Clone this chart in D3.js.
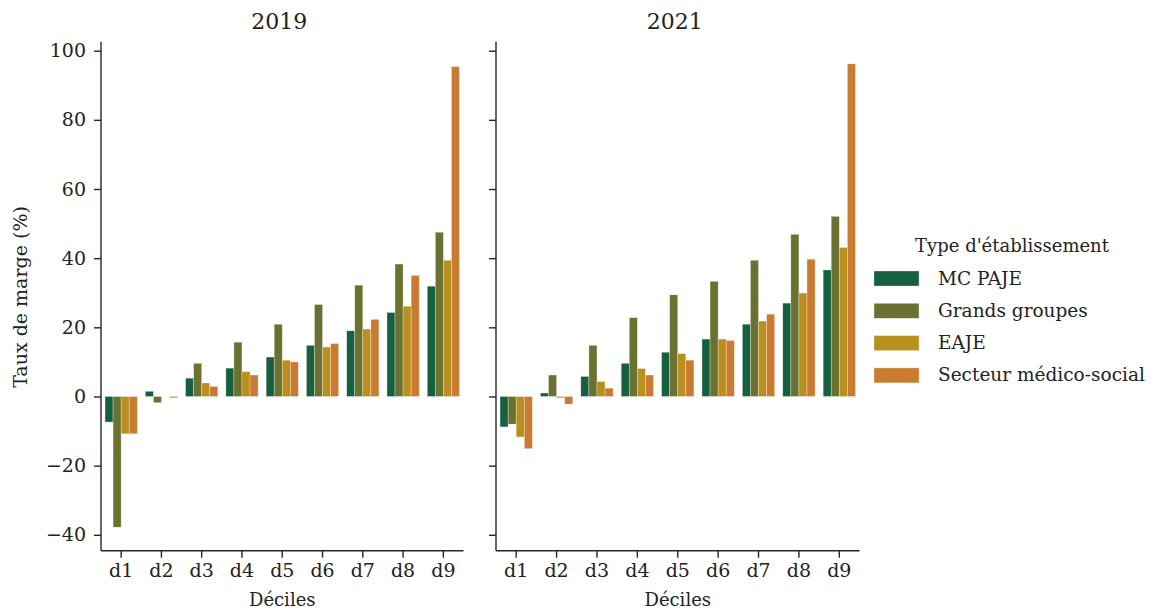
<!DOCTYPE html>
<html>
<head>
<meta charset="utf-8">
<script src="https://cdn.jsdelivr.net/npm/d3@7/dist/d3.min.js"></script>
<style>
  body { margin: 0; background: #fff; }
  svg { display: block; font-family: "DejaVu Serif", serif; }
</style>
</head>
<body>
<svg id="chart" width="1158" height="613"></svg>
<script>
const deciles = ["d1","d2","d3","d4","d5","d6","d7","d8","d9"];
const series = ["MC PAJE","Grands groupes","EAJE","Secteur médico-social"];
const colors = ["#17603f","#6b7131","#b98f1f","#c97b31"];
const years = ["2019","2021"];
const yTicks = [-40,-20,0,20,40,60,80,100];

const v2019_mcpaje   = [-7.4, 1.5, 5.3, 8.2, 11.4, 14.8, 19.0, 24.3, 31.9];
const v2019_grands   = [-37.8, -1.8, 9.6, 15.7, 20.9, 26.6, 32.2, 38.3, 47.5];
const v2019_eaje     = [-10.8, 0.0, 3.9, 7.2, 10.5, 14.3, 19.5, 26.1, 39.4];
const v2019_medsoc   = [-10.8, -0.4, 2.9, 6.2, 10.0, 15.3, 22.3, 35.0, 95.4];

const v2021_mcpaje   = [-8.8, 1.0, 5.8, 9.6, 12.8, 16.6, 20.9, 27.0, 36.6];
const v2021_grands   = [-8.0, 6.2, 14.8, 22.8, 29.4, 33.3, 39.4, 46.9, 52.1];
const v2021_eaje     = [-11.7, -0.4, 4.3, 8.1, 12.4, 16.6, 21.8, 29.9, 43.1];
const v2021_medsoc   = [-15.1, -2.2, 2.4, 6.2, 10.5, 16.2, 23.8, 39.7, 96.2];

const data = {
  "2019": [v2019_mcpaje, v2019_grands, v2019_eaje, v2019_medsoc],
  "2021": [v2021_mcpaje, v2021_grands, v2021_eaje, v2021_medsoc]
};

const svg = d3.select("#chart");
const plotTop = 41.7, plotBottom = 550.7;
const panels = [{x0: 101, x1: 463.5}, {x0: 496, x1: 859.5}];

const y = d3.scaleLinear().domain([-44.6, 102.6]).range([plotBottom, plotTop]);
const color = d3.scaleOrdinal().domain(series).range(colors);
const axisColor = "#262626";

years.forEach((yr, pi) => {
  const p = panels[pi];
  const x0 = d3.scaleBand().domain(deciles).range([p.x0, p.x1]).paddingInner(0.2).paddingOuter(0.1);
  const x1 = d3.scaleBand().domain(series).range([0, x0.bandwidth()]);
  const g = svg.append("g");

  series.forEach((s, si) => {
    g.selectAll(null).data(data[yr][si]).enter().append("rect")
      .attr("x", (d, i) => x0(deciles[i]) + x1(s))
      .attr("width", x1.bandwidth())
      .attr("y", d => Math.min(y(d), y(0)))
      .attr("height", d => Math.abs(y(d) - y(0)))
      .attr("fill", color(s))
      .attr("stroke", "#ffffff")
      .attr("stroke-opacity", 0.5)
      .attr("stroke-width", 0.6);
  });

  const xa = g.append("g").attr("transform", `translate(0,${plotBottom})`)
    .call(d3.axisBottom(x0).tickSize(7).tickSizeOuter(0).tickPadding(6));
  xa.select(".domain").attr("d", `M${p.x0},0H${p.x1}`);
  const ya = g.append("g").attr("transform", `translate(${p.x0},0)`)
    .call(d3.axisLeft(y).tickValues(yTicks).tickSize(7).tickSizeOuter(0).tickPadding(8)
      .tickFormat(d => d < 0 ? "\u2212" + Math.abs(d) : d));
  ya.select(".domain").attr("d", `M0,${plotTop}V${plotBottom}`);
  if (pi === 1) ya.selectAll(".tick text").remove();

  [xa, ya].forEach(a => {
    a.select(".domain").attr("stroke", axisColor).attr("stroke-width", 1.4);
    a.selectAll(".tick line").attr("stroke", axisColor).attr("stroke-width", 1.4);
    a.selectAll(".tick text").attr("fill", "#222").attr("font-size", 19)
      .attr("font-family", "DejaVu Serif, serif");
  });

  g.append("text").attr("x", (p.x0 + p.x1) / 2 - 3).attr("y", 29)
    .attr("text-anchor", "middle").attr("font-size", 22).attr("fill", "#222").text(yr);
  g.append("text").attr("x", (p.x0 + p.x1) / 2).attr("y", 606)
    .attr("text-anchor", "middle").attr("font-size", 18).attr("fill", "#222").text("Déciles");
});

svg.append("text").attr("transform", "translate(27,297) rotate(-90)")
  .attr("text-anchor", "middle").attr("font-size", 19).attr("fill", "#222").text("Taux de marge (%)");

const lg = svg.append("g");
lg.append("text").attr("x", 1012).attr("y", 252).attr("text-anchor", "middle")
  .attr("font-size", 18).attr("fill", "#222").text("Type d'établissement");
series.forEach((s, i) => {
  const yy = 271 + i * 32.3;
  lg.append("rect").attr("x", 874).attr("y", yy).attr("width", 45).attr("height", 15)
    .attr("fill", color(s)).attr("stroke", "#fff").attr("stroke-opacity", 0.5).attr("stroke-width", 0.6);
  lg.append("text").attr("x", 938).attr("y", yy + 13.5).attr("font-size", 18.5)
    .attr("fill", "#222").text(s);
});
</script>
</body>
</html>
